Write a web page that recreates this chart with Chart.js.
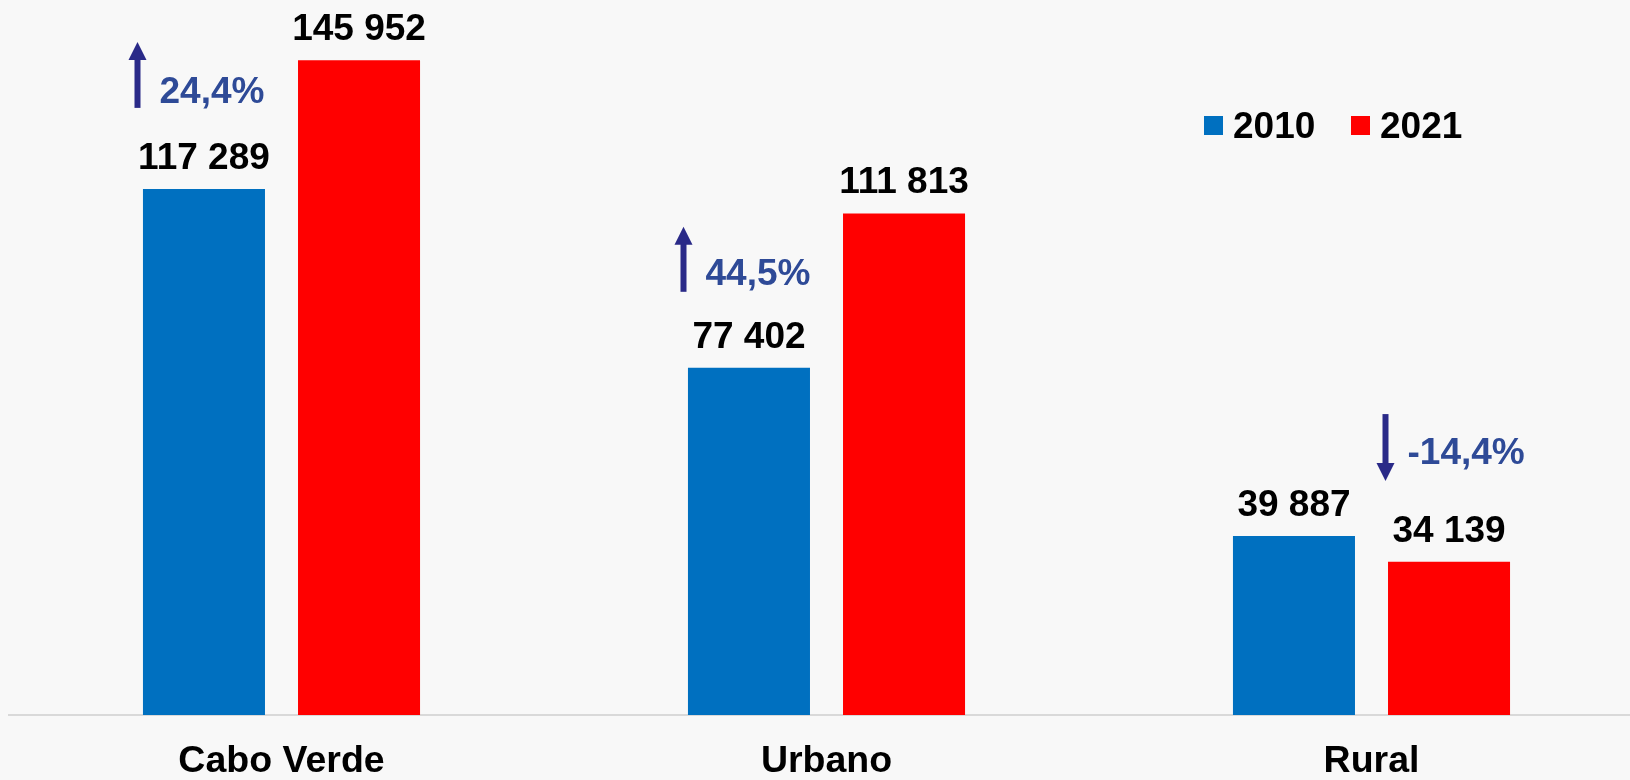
<!DOCTYPE html>
<html>
<head>
<meta charset="utf-8">
<script src="https://cdn.jsdelivr.net/npm/chart.js"></script>
<style>
  html, body { margin: 0; padding: 0; background: #f8f8f8; }
  #wrap { width: 1630px; height: 780px; overflow: hidden; position: relative; }
  canvas { display: block; }
</style>
</head>
<body>
<div id="wrap"><canvas id="popChart" width="1644" height="808"></canvas></div>
<script>
// Population 2010 vs 2021
const categories = ['Cabo Verde', 'Urbano', 'Rural'];
const years = ['2010', '2021'];
const values2010 = [117289, 77402, 39887];
const values2021 = [145952, 111813, 34139];
const changeLabels = ['24,4%', '44,5%', '-14,4%'];
const changeUp = [true, true, false];

const FONT = '"Liberation Sans", Arial, sans-serif';
const BLUE = '#0070C0';
const RED = '#FF0000';

// where the change arrows sit, relative to category centre and top of the 2010 bar
const arrowLayout = [
    { dx: -144, top: -147, bottom: -81, tx: -122, ty: -86 },
    { dx: -143, top: -141, bottom: -76, tx: -121, ty: -83 },
    { dx: 14, top: -122, bottom: -55, tx: 36, ty: -72 }
];

const fmt = v => String(v).replace(/\B(?=(\d{3})+(?!\d))/g, ' ');

const valueLabels = {
    id: 'valueLabels',
    afterDatasetsDraw(chart) {
        const ctx = chart.ctx;
        ctx.save();
        ctx.font = 'bold 37px ' + FONT;
        ctx.fillStyle = '#000';
        ctx.textAlign = 'center';
        ctx.textBaseline = 'alphabetic';
        chart.data.datasets.forEach((ds, i) => {
            chart.getDatasetMeta(i).data.forEach((bar, j) => {
                ctx.fillText(fmt(ds.data[j]), bar.x, bar.y - 20);
            });
        });
        ctx.restore();
    }
};

const changeArrows = {
    id: 'changeArrows',
    afterDatasetsDraw(chart) {
        const ctx = chart.ctx;
        const xs = chart.scales.x, ys = chart.scales.y;
        ctx.save();
        categories.forEach((c, i) => {
            const L = arrowLayout[i];
            const cx = xs.getPixelForValue(i) + L.dx;
            const base = ys.getPixelForValue(values2010[i]);
            const y1 = base + L.top, y2 = base + L.bottom;
            ctx.fillStyle = '#2a2a88';
            const head = 18;
            if (changeUp[i]) {
                ctx.fillRect(cx - 3, y1 + head - 1, 6, y2 - y1 - head + 1);
                ctx.beginPath();
                ctx.moveTo(cx, y1);
                ctx.lineTo(cx + 9, y1 + head);
                ctx.lineTo(cx - 9, y1 + head);
                ctx.closePath();
                ctx.fill();
            } else {
                ctx.fillRect(cx - 3, y1, 6, y2 - y1 - head + 1);
                ctx.beginPath();
                ctx.moveTo(cx, y2);
                ctx.lineTo(cx + 9, y2 - head);
                ctx.lineTo(cx - 9, y2 - head);
                ctx.closePath();
                ctx.fill();
            }
            ctx.font = 'bold 37px ' + FONT;
            ctx.fillStyle = '#2e4a97';
            ctx.textAlign = 'left';
            ctx.textBaseline = 'alphabetic';
            ctx.fillText(changeLabels[i], xs.getPixelForValue(i) + L.tx, base + L.ty);
        });
        ctx.restore();
    }
};

const boxLegend = {
    id: 'boxLegend',
    afterDraw(chart) {
        const ctx = chart.ctx;
        const pos = [1204, 1351];
        ctx.save();
        ctx.font = 'bold 37px ' + FONT;
        ctx.textBaseline = 'alphabetic';
        ctx.textAlign = 'left';
        chart.data.datasets.forEach((ds, i) => {
            ctx.fillStyle = ds.backgroundColor;
            ctx.fillRect(pos[i], 116, 19, 19);
            ctx.fillStyle = '#000';
            ctx.fillText(ds.label, pos[i] + 29, 138);
        });
        ctx.restore();
    }
};

new Chart(document.getElementById('popChart').getContext('2d'), {
    type: 'bar',
    data: {
        labels: categories,
        datasets: [
            { label: years[0], data: values2010, backgroundColor: BLUE },
            { label: years[1], data: values2021, backgroundColor: RED }
        ]
    },
    options: {
        responsive: false,
        animation: false,
        devicePixelRatio: 1,
        categoryPercentage: 0.569,
        barPercentage: 0.787,
        layout: { padding: { left: 9, right: 0, top: 0, bottom: 0 } },
        plugins: {
            legend: { display: false },
            tooltip: { enabled: false }
        },
        scales: {
            x: {
                grid: { display: false, drawTicks: false },
                border: { display: true, color: '#d9d9d9', width: 2 },
                ticks: {
                    color: '#000',
                    padding: 24,
                    font: { family: FONT, size: 37.5, weight: 'bold' }
                }
            },
            y: {
                display: false,
                min: 0,
                max: 159400
            }
        }
    },
    plugins: [valueLabels, changeArrows, boxLegend]
});
</script>
</body>
</html>
